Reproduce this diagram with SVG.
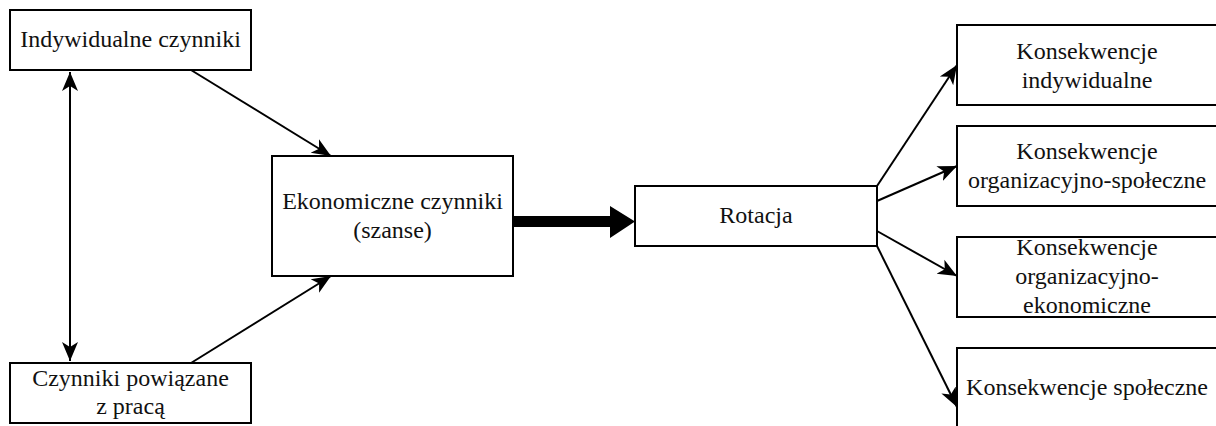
<svg xmlns="http://www.w3.org/2000/svg" width="1216" height="426" viewBox="0 0 1216 426">
<style>
.box{fill:#fff;stroke:#000;stroke-width:2}
.t{font-family:'Liberation Serif','DejaVu Serif',serif;font-size:24px;fill:#111;text-anchor:middle}
.c{stroke:#000;stroke-width:2;fill:none}
</style>
<defs>
<marker id="ah" markerUnits="userSpaceOnUse" markerWidth="22" markerHeight="22" viewBox="0 0 22 22" refX="19" refY="10" orient="auto-start-reverse">
<path d="M0,2 L19,10 L0,18 L5,10 z" fill="#000"/>
</marker>
</defs>
<rect width="1216" height="426" fill="#fff"/>
<g id="connectors">
<line class="c" x1="70" y1="72" x2="70" y2="361" marker-start="url(#ah)" marker-end="url(#ah)"/>
<line class="c" x1="191" y1="70" x2="331" y2="156" marker-end="url(#ah)"/>
<line class="c" x1="191" y1="363" x2="331" y2="276" marker-end="url(#ah)"/>
<polygon points="513,216 610,216 610,206 635,221.5 610,238 610,227 513,227" fill="#000"/>
<line class="c" x1="877" y1="186" x2="957" y2="65" marker-end="url(#ah)"/>
<line class="c" x1="877" y1="201" x2="957" y2="166" marker-end="url(#ah)"/>
<line class="c" x1="877" y1="231" x2="957" y2="276" marker-end="url(#ah)"/>
<line class="c" x1="877" y1="246" x2="957" y2="407" marker-end="url(#ah)"/>
</g>
<g id="n-indywidualne">
<rect class="box" x="10" y="10" width="241" height="60"/>
<text class="t" font-family="Liberation Serif, serif" x="130.5" y="47">Indywidualne czynniki</text>
</g>
<g id="n-praca">
<rect class="box" x="10" y="363" width="241" height="60"/>
<text class="t" font-family="Liberation Serif, serif" x="130.5" y="386">Czynniki powiązane</text>
<text class="t" font-family="Liberation Serif, serif" x="130.5" y="414">z pracą</text>
</g>
<g id="n-ekonomiczne">
<rect class="box" x="272" y="156" width="241" height="120"/>
<text class="t" font-family="Liberation Serif, serif" x="392.5" y="209">Ekonomiczne czynniki</text>
<text class="t" font-family="Liberation Serif, serif" x="392.5" y="238">(szanse)</text>
</g>
<g id="n-rotacja">
<rect class="box" x="635" y="186" width="242" height="60"/>
<text class="t" font-family="Liberation Serif, serif" x="756" y="223">Rotacja</text>
</g>
<g id="n-k1">
<rect class="box" x="957" y="25" width="270" height="80"/>
<text class="t" font-family="Liberation Serif, serif" x="1087" y="59">Konsekwencje</text>
<text class="t" font-family="Liberation Serif, serif" x="1087" y="88">indywidualne</text>
</g>
<g id="n-k2">
<rect class="box" x="957" y="126" width="270" height="80"/>
<text class="t" font-family="Liberation Serif, serif" x="1087" y="159">Konsekwencje</text>
<text class="t" font-family="Liberation Serif, serif" x="1087" y="188">organizacyjno-społeczne</text>
</g>
<g id="n-k3">
<rect class="box" x="957" y="237" width="270" height="80"/>
<text class="t" font-family="Liberation Serif, serif" x="1087" y="255">Konsekwencje</text>
<text class="t" font-family="Liberation Serif, serif" x="1087" y="284">organizacyjno-</text>
<text class="t" font-family="Liberation Serif, serif" x="1087" y="313">ekonomiczne</text>
</g>
<g id="n-k4">
<rect class="box" x="957" y="348" width="270" height="80"/>
<text class="t" font-family="Liberation Serif, serif" x="1087" y="395">Konsekwencje społeczne</text>
</g>
</svg>
